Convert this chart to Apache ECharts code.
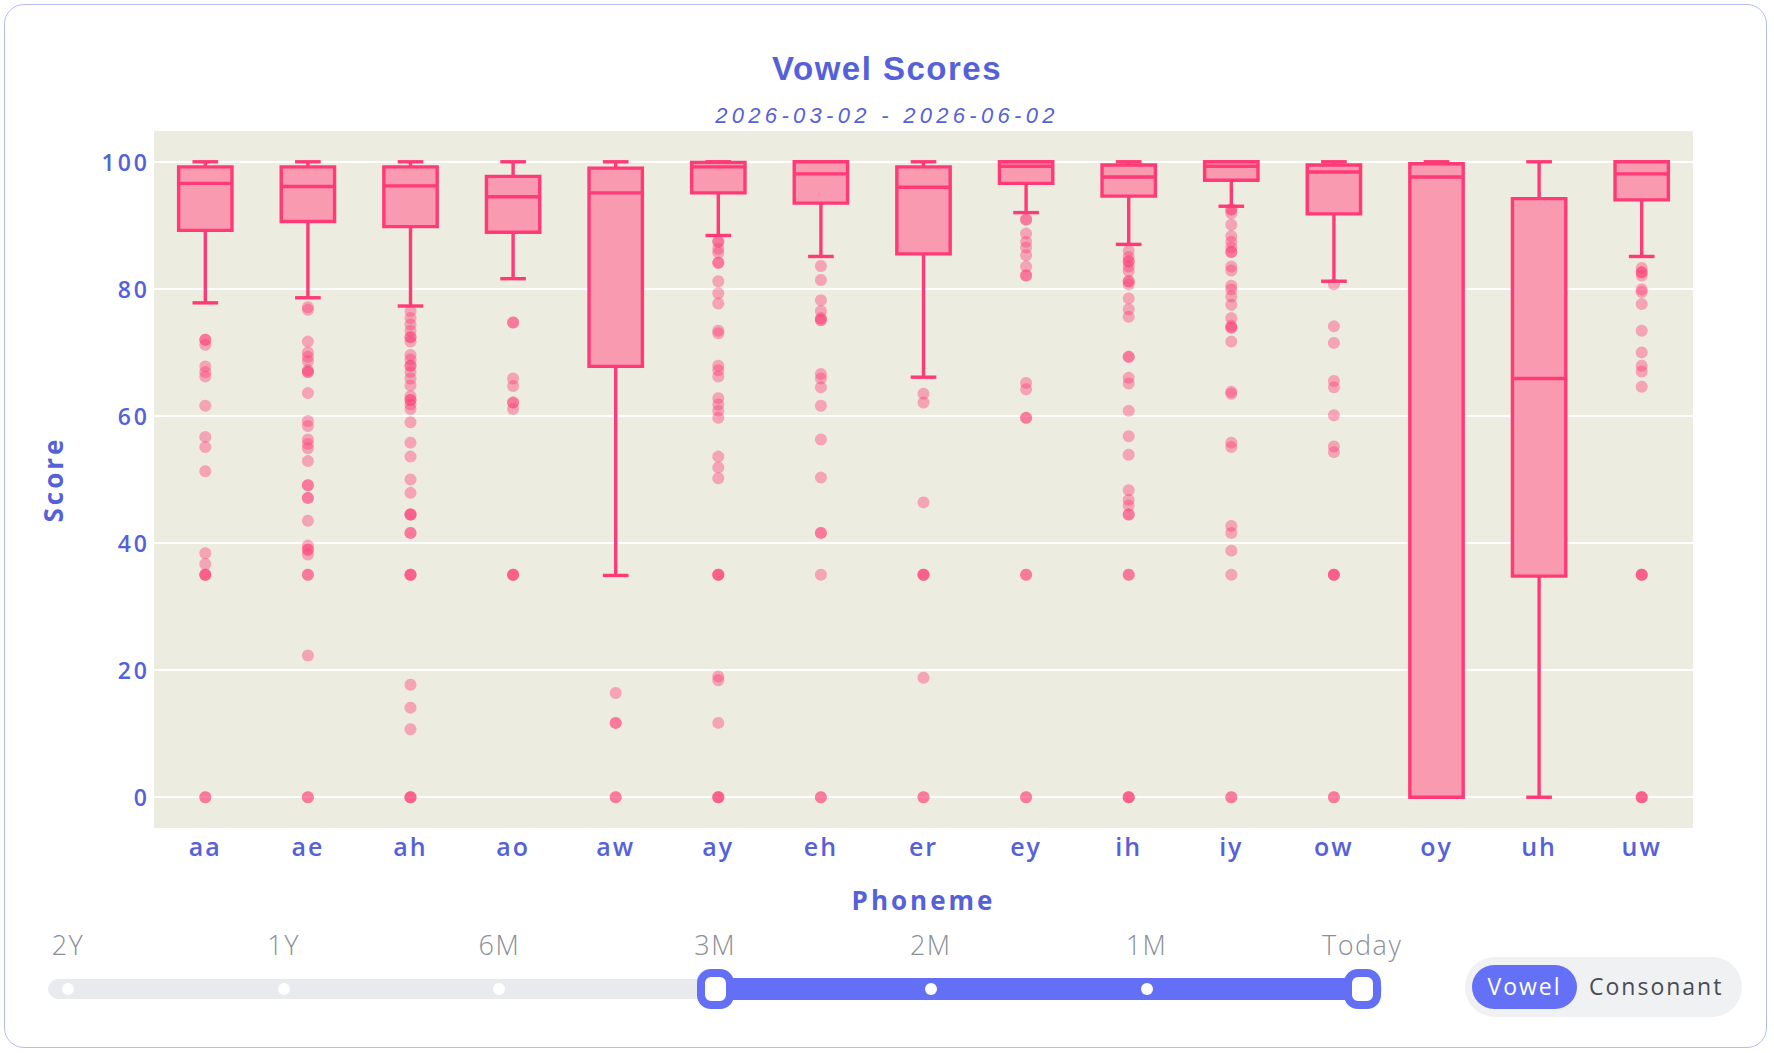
<!DOCTYPE html>
<html>
<head>
<meta charset="utf-8">
<title>Vowel Scores</title>
<script src="https://cdn.jsdelivr.net/npm/echarts@6/dist/echarts.min.js"></script>
<style>
  html, body { margin: 0; padding: 0; background: #fff; }
  #card {
    position: absolute; left: 4px; top: 4px; width: 1763px; height: 1044px;
    box-sizing: border-box; border: 1.5px solid #b8bdf1; border-radius: 20px;
  }
  #chart { position: absolute; left: 0; top: 0; width: 1774px; height: 1053px; }
  /* zrender has no letter spacing, so it is added on the svg text */
  #chart text[style*="33px"] { letter-spacing: 1.5px; }
  #chart text[style*="italic"] { letter-spacing: 4.3px; }
  #chart text[style*="23px"] { letter-spacing: 3px; }
  #chart text[style*="25px"] { letter-spacing: 2px; }
  #chart text[style*="26px"] { letter-spacing: 3px; }

  .tick-label {
    position: absolute; top: 926px; transform: translateX(-50%);
    font: 300 27px "Open Sans"; letter-spacing: 1.5px; color: #8a9098;
  }
  .track {
    position: absolute; top: 979px; height: 20px; border-radius: 10px; background: #e8eaed;
  }
  .range {
    position: absolute; top: 978px; height: 22px; background: #6370f5;
  }
  .dot {
    position: absolute; top: 983px; width: 12px; height: 12px; margin-left: -6px;
    border-radius: 50%; background: #fff;
  }
  .handle {
    position: absolute; top: 969px; width: 37px; height: 40px; margin-left: -18.5px;
    box-sizing: border-box; border: 8px solid #6370f5; border-radius: 14px; background: #fff;
  }
  #toggle {
    position: absolute; left: 1465px; top: 957px; width: 277px; height: 60px;
    border-radius: 30px; background: #f0f1f3;
  }
  #toggle span {
    position: absolute; top: 8px; height: 44px;
    font: 500 23px "Open Sans"; line-height: 43px; letter-spacing: 2px; color: #474c55;
  }
  #toggle span.on {
    left: 7px; width: 105px; text-align: center; border-radius: 22px;
    background: #6470f5; color: #fff;
  }
  #toggle span.off { left: 124px; }
</style>
</head>
<body>
<div id="card"></div>
<div id="chart"></div>
<div id="slider"></div>
<div id="toggle"><span class="on">Vowel</span><span class="off">Consonant</span></div>
<script>
const categories = ['aa', 'ae', 'ah', 'ao', 'aw', 'ay', 'eh', 'er', 'ey', 'ih', 'iy', 'ow', 'oy', 'uh', 'uw'];

// box stats
const lowerWhisker = [77.8, 78.6, 77.3, 81.6, 34.9, 88.4, 85.1, 66.1, 92.0, 87.0, 93.0, 81.2, 0, 0, 85.1];
const q1 = [89.2, 90.6, 89.8, 88.9, 67.8, 95.1, 93.5, 85.5, 96.6, 94.6, 97.1, 91.8, 0, 34.8, 94.0];
const median = [96.6, 96.1, 96.2, 94.5, 95.1, 99.2, 98.1, 96.0, 99.3, 97.6, 99.3, 98.4, 97.6, 65.9, 98.1];
const q3 = [99.2, 99.2, 99.2, 97.7, 99.0, 99.9, 100, 99.2, 100, 99.5, 100, 99.5, 99.7, 94.2, 100];
const upperWhisker = [100, 100, 100, 100, 100, 100, 100, 100, 100, 100, 100, 100, 100, 100, 100];

// outliers per phoneme, repeated values are the darker (stacked) dots
const outliers = [
  [72, 72, 71.2, 67.8, 66.9, 66.2, 61.6, 56.7, 55.1, 51.3, 38.4, 36.7, 35, 35, 35, 0, 0],
  [77.1, 76.7, 71.7, 70.0, 69.3, 68.6, 67.2, 66.9, 66.9, 63.6, 59.2, 58.4, 56.3, 55.6, 54.9, 52.9, 49.1, 49.1, 47.1, 47.1, 43.5, 39.6, 39.0, 38.9, 38.2, 35, 35, 22.3, 0, 0],
  [76.5, 75.4, 74.4, 73.4, 72.4, 72.4, 71.7, 69.6, 68.9, 67.9, 67.9, 66.9, 65.9, 64.8, 63.1, 62.5, 62.5, 61.8, 61.1, 59.0, 55.8, 53.6, 50.0, 47.9, 44.5, 44.5, 44.5, 41.6, 41.6, 35, 35, 35, 17.7, 14.1, 10.7, 0, 0, 0],
  [74.7, 74.7, 65.9, 64.7, 62.1, 62.1, 61.1, 35, 35, 35],
  [16.4, 11.7, 11.7, 0, 0],
  [87.4, 87.4, 86.3, 85.7, 84.1, 84.1, 81.2, 79.3, 77.7, 73.4, 73.0, 67.9, 67.2, 66.2, 62.8, 61.8, 60.8, 59.7, 53.6, 51.9, 50.2, 35, 35, 35, 19.0, 18.4, 11.7, 0, 0, 0],
  [83.6, 81.4, 78.2, 76.5, 75.4, 75.1, 75.1, 66.6, 65.9, 64.5, 61.6, 56.3, 50.3, 41.6, 41.6, 35, 0, 0],
  [63.5, 62.1, 46.4, 35, 35, 35, 18.8, 0, 0],
  [90.9, 90.9, 88.7, 87.4, 86.5, 85.3, 83.5, 82.1, 82.1, 65.2, 64.2, 59.7, 59.7, 35, 35, 0, 0],
  [86.0, 85.0, 84.3, 84.3, 83.5, 82.8, 81.2, 81.2, 80.7, 78.5, 76.8, 75.6, 69.3, 69.3, 66.0, 65.1, 60.8, 56.8, 53.9, 48.3, 46.8, 45.9, 44.5, 44.5, 35, 35, 0, 0, 0],
  [92.5, 92.5, 91.9, 90.1, 88.3, 87.4, 86.5, 85.8, 85.8, 83.5, 82.9, 80.5, 79.9, 78.8, 77.5, 75.4, 74.2, 73.9, 73.9, 71.7, 63.8, 63.5, 55.8, 55.1, 42.7, 41.6, 38.8, 35, 0, 0],
  [80.7, 74.1, 71.5, 65.5, 64.5, 60.1, 55.2, 54.3, 35, 35, 35, 0, 0],
  [],
  [],
  [83.3, 82.6, 82.6, 82.1, 79.9, 79.5, 77.6, 73.4, 70.0, 67.9, 67.0, 64.6, 35, 35, 35, 0, 0, 0]
];

const rangeLabels = ['2Y', '1Y', '6M', '3M', '2M', '1M', 'Today'];
const rangeStart = 3;
const rangeEnd = 6;

const BLUE = '#5561d9';
const BOX_LINE = '#ff3a76';
const BOX_FILL = '#f99ab1';

const boxData = categories.map(function (c, i) {
  return [i, lowerWhisker[i], q1[i], median[i], q3[i], upperWhisker[i]];
});
const pointData = [];
outliers.forEach(function (list, i) {
  list.forEach(function (v) { pointData.push([categories[i], v]); });
});

function renderBox(params, api) {
  const idx = api.value(0);
  const lo = api.coord([idx, api.value(1)]);
  const b1 = api.coord([idx, api.value(2)]);
  const md = api.coord([idx, api.value(3)]);
  const b3 = api.coord([idx, api.value(4)]);
  const hi = api.coord([idx, api.value(5)]);
  const band = api.size([1, 0])[0];
  const half = band * 0.26;
  const cap = band * 0.125;
  const cx = md[0];
  function ln() { return { stroke: BOX_LINE, lineWidth: 3.4 }; }
  return {
    type: 'group',
    children: [
      { type: 'line', shape: { x1: cx, y1: b1[1], x2: cx, y2: lo[1] }, style: ln() },
      { type: 'line', shape: { x1: cx, y1: b3[1], x2: cx, y2: hi[1] }, style: ln() },
      { type: 'line', shape: { x1: cx - cap, y1: lo[1], x2: cx + cap, y2: lo[1] }, style: ln() },
      { type: 'line', shape: { x1: cx - cap, y1: hi[1], x2: cx + cap, y2: hi[1] }, style: ln() },
      {
        type: 'rect',
        shape: { x: cx - half, y: b3[1], width: half * 2, height: b1[1] - b3[1] },
        style: { fill: BOX_FILL, stroke: BOX_LINE, lineWidth: 3.4 }
      },
      { type: 'line', shape: { x1: cx - half, y1: md[1], x2: cx + half, y2: md[1] }, style: ln() }
    ]
  };
}

const chart = echarts.init(document.getElementById('chart'), null, { renderer: 'svg' });
chart.setOption({
  animation: false,
  title: [
    {
      text: 'Vowel Scores', left: 'center', top: 47,
      textStyle: { color: BLUE, fontSize: 33, fontWeight: 'bold', fontFamily: 'Liberation Sans' }
    },
    {
      text: '2026-03-02 - 2026-06-02', left: 'center', top: 99,
      textStyle: { color: BLUE, fontSize: 22, fontStyle: 'italic', fontWeight: 'normal', fontFamily: 'Liberation Sans' }
    }
  ],
  grid: {
    left: 154, right: 81, top: 130, bottom: 224,
    show: true, backgroundColor: '#edece0', borderWidth: 0
  },
  xAxis: {
    type: 'category',
    data: categories,
    name: 'Phoneme',
    nameLocation: 'middle',
    nameGap: 58,
    nameTextStyle: { color: BLUE, fontSize: 26, fontWeight: 'bold', fontFamily: 'Open Sans' },
    axisLine: { show: false },
    axisTick: { show: false },
    axisLabel: { color: BLUE, fontSize: 25, fontWeight: 600, fontFamily: 'Open Sans', margin: 4 },
    splitLine: { show: false }
  },
  yAxis: {
    type: 'value',
    min: -5,
    max: 105,
    name: 'Score',
    nameLocation: 'middle',
    nameGap: 88,
    nameTextStyle: { color: BLUE, fontSize: 26, fontWeight: 'bold', fontFamily: 'Open Sans' },
    axisLine: { show: false },
    axisTick: { show: false },
    axisLabel: {
      color: BLUE, fontSize: 23, fontWeight: 600, fontFamily: 'Open Sans', margin: 4,
      showMinLabel: false, showMaxLabel: false,
      formatter: function (v) { return v % 20 === 0 ? String(v) : ''; }
    },
    splitLine: { lineStyle: { color: '#ffffff', width: 2 } }
  },
  series: [
    {
      type: 'custom',
      renderItem: renderBox,
      data: boxData,
      encode: { x: 0, y: [1, 2, 3, 4, 5] },
      z: 2
    },
    {
      type: 'scatter',
      data: pointData,
      symbolSize: 12,
      itemStyle: { color: BOX_LINE, opacity: 0.4 },
      z: 3
    }
  ]
});

// range slider under the chart
const slider = document.getElementById('slider');
const x0 = 68, step = 215.7;
function add(cls, css) {
  const d = document.createElement('div');
  d.className = cls;
  Object.assign(d.style, css);
  slider.appendChild(d);
  return d;
}
add('track', { left: '48px', width: (x0 + step * (rangeLabels.length - 1) + 20 - 48) + 'px' });
add('range', { left: (x0 + step * rangeStart) + 'px', width: (step * (rangeEnd - rangeStart)) + 'px' });
rangeLabels.forEach(function (lab, i) {
  const x = x0 + step * i;
  const t = add('tick-label', { left: x + 'px' });
  t.textContent = lab;
  if (i === rangeStart || i === rangeEnd) add('handle', { left: x + 'px' });
  else add('dot', { left: x + 'px' });
});
</script>
</body>
</html>
